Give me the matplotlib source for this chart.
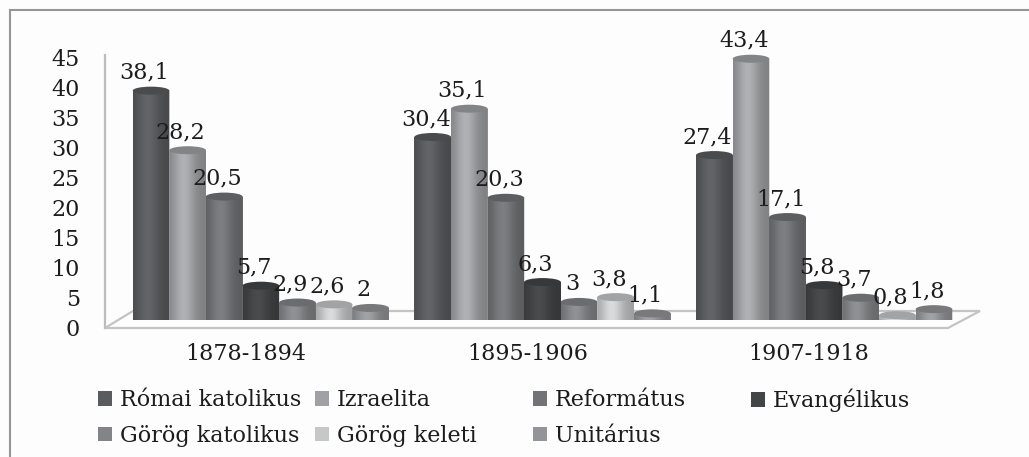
import numpy as np
import matplotlib
matplotlib.use("Agg")
import matplotlib.pyplot as plt
from matplotlib.lines import Line2D
from matplotlib.patches import Ellipse, Patch, Polygon
from matplotlib.path import Path
from matplotlib.transforms import Affine2D

periods = ["1878-1894", "1895-1906", "1907-1918"]
series_names = ["Római katolikus", "Izraelita", "Református", "Evangélikus",
                "Görög katolikus", "Görög keleti", "Unitárius"]
romai = [38.1, 30.4, 27.4]
izraelita = [28.2, 35.1, 43.4]
reformatus = [20.5, 20.3, 17.1]
evangelikus = [5.7, 6.3, 5.8]
gorog_kat = [2.9, 3, 3.7]
gorog_kel = [2.6, 3.8, 0.8]
unitarius = [2, 1.1, 1.8]
series_values = [romai, izraelita, reformatus, evangelikus, gorog_kat, gorog_kel, unitarius]
colors = ["#5a5b5e", "#a0a1a4", "#727376", "#434446", "#838487", "#c6c7c9", "#939497"]
yticks = list(range(0, 50, 5))

W, H = 1029, 457
BG = "#fdfdfd"
plt.rcParams["font.family"] = ["DejaVu Serif"]
TXT = "#1c1c1c"
fig = plt.figure(figsize=(W / 100, H / 100), dpi=100, facecolor=BG)
px = Affine2D().scale(1, -1).translate(0, H)  # image pixels -> display


def rect(l, t, r, b):
    return [l / W, 1 - b / H, (r - l) / W, (b - t) / H]


fig.add_artist(Line2D([9.5, 9.5, W], [H, 10, 10], transform=px, color="#969696", lw=1.5,
                      zorder=-2, solid_joinstyle="miter"))
fig.add_artist(Polygon([(105, 328), (133, 311), (980, 311), (948, 328)], transform=px,
                       closed=True, fc=BG, ec="#c4c4c4", lw=1.6, zorder=-1))

# wall / category axes
wall = fig.add_axes(rect(105, 55, 950, 328))
wall.set_xlim(-0.5, 2.5)
wall.set_ylim(0, 273 / 6.02)
wall.patch.set_alpha(0)
for s in ("top", "right", "bottom"):
    wall.spines[s].set_visible(False)
wall.spines["left"].set_color("#bdbdbd")
wall.spines["left"].set_linewidth(1.6)
wall.set_yticks(yticks)
wall.set_xticks(range(3))
wall.set_xticklabels(periods)
wall.tick_params(axis="y", length=0, pad=18, labelsize=16, labelcolor=TXT)
wall.tick_params(axis="x", length=0, pad=11, labelsize=16, labelcolor=TXT)

# bars axes, displaced into the depth of the floor
ax = fig.add_axes(rect(120, 47, 965, 320))
ax.set_xlim(-0.5, 2.5)
ax.set_ylim(0, 273 / 6.02)
ax.axis("off")

bw = 36.6 / (845 / 3)
unit = 6.02
top_h, bot_h = 8 / unit, 7 / unit
xs = np.linspace(-1, 1, 128)
profile = 0.8 + 0.3 * np.exp(-((xs + 0.2) / 0.6) ** 2)
z = 2
for i, (vals, col) in enumerate(zip(series_values, colors)):
    base = np.array(matplotlib.colors.to_rgb(col))
    grad = np.clip(base[None, None, :] * profile[None, :, None], 0, 1)
    centers = np.arange(3) + (i - 3) * bw
    bars = ax.bar(centers, vals, bw, color=col, zorder=z)
    for bar, v in zip(bars, vals):
        x0, x1 = bar.get_x(), bar.get_x() + bw
        cx = (x0 + x1) / 2
        t = np.linspace(np.pi, 2 * np.pi, 40)
        outline = np.column_stack([cx + bw / 2 * np.cos(t), bot_h / 2 * np.sin(t)])
        outline = np.vstack([outline, [x1, v], [x0, v], outline[0]])
        im = ax.imshow(grad, extent=(x0, x1, -bot_h / 2, v), aspect="auto", zorder=z + 0.1,
                       interpolation="bilinear")
        im.set_clip_path(Path(outline), transform=ax.transData)
        ax.add_patch(Ellipse((cx, v), bw, top_h, fc=base * 0.82, ec="none", zorder=z + 0.2))
        ax.annotate(f"{v:g}".replace(".", ","), (cx, v), xytext=(-7, 18),
                    textcoords="offset pixels", ha="center", va="center",
                    fontsize=16, color=TXT, zorder=100, annotation_clip=False)
    z += 1
ax.set_xlim(-0.5, 2.5)
ax.set_ylim(0, 273 / 6.02)

# legend: four evenly spaced columns of two rows
handles = [Patch(fc=c, ec="none") for c in colors]
column_x = [98, 315, 533, 751]
for c, x in enumerate(column_x):
    members = [k for k in (c, c + 4) if k < len(series_names)]
    fig.legend([handles[k] for k in members], [series_names[k] for k in members],
               loc="upper left", bbox_to_anchor=(x / W, 1 - 389 / H), frameon=False,
               borderpad=0, borderaxespad=0, handlelength=0.65, handleheight=0.65,
               handletextpad=0.35, labelspacing=0.62, fontsize=16, labelcolor=TXT)

fig.savefig("out.png", dpi=100, facecolor=BG)
